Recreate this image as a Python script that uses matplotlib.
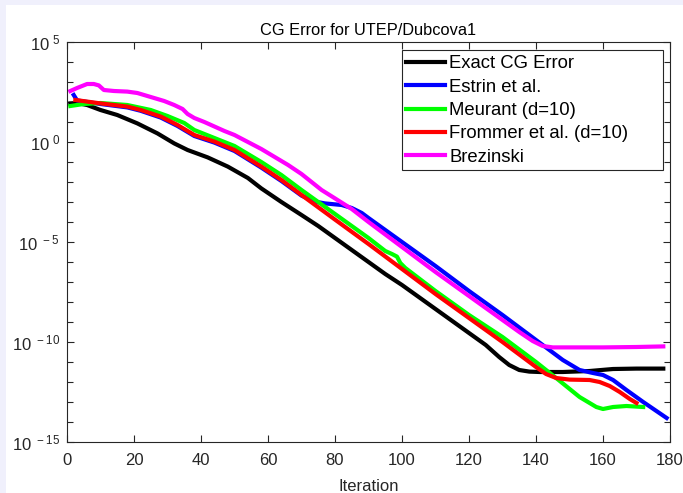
import numpy as np
import matplotlib
matplotlib.use("Agg")
import matplotlib.pyplot as plt
from matplotlib.patches import Rectangle
from matplotlib.ticker import FixedLocator, FixedFormatter, NullFormatter

plt.rcParams['font.family'] = ['Liberation Sans', 'DejaVu Sans']
plt.rcParams['mathtext.fontset'] = 'custom'
plt.rcParams['mathtext.rm'] = 'Liberation Sans'

title = "CG Error for UTEP/Dubcova1"
xlabel = "Iteration"
labels = ["Exact CG Error", "Estrin et al.", "Meurant (d=10)", "Frommer et al. (d=10)", "Brezinski"]
colors = ["#000000", "#0000ff", "#00ff00", "#ff0000", "#ff00ff"]

# iteration numbers and log10 of the error
exact_it = [1, 3, 6, 10, 15, 21, 27, 32, 36, 42, 48, 54, 58, 64, 70, 75, 80, 85, 90, 95, 100,
            105, 110, 115, 120, 125, 129, 132, 135, 138, 141, 148, 156, 163, 170, 178]
exact_lg = [1.93, 1.95, 1.85, 1.6, 1.35, 0.93, 0.43, -0.07, -0.4, -0.77, -1.23, -1.8, -2.32, -3.0,
            -3.65, -4.2, -4.8, -5.4, -6.0, -6.6, -7.15, -7.75, -8.35, -8.95, -9.55, -10.15, -10.75,
            -11.15, -11.4, -11.48, -11.5, -11.5, -11.45, -11.35, -11.33, -11.33]

estrin_it = [2, 3, 10, 18, 22, 28, 33, 38, 44, 50, 58, 64, 70, 74, 77, 82, 85, 88, 90, 100, 110,
             120, 130, 140, 144, 148, 153, 157, 160, 163, 167, 172, 179]
estrin_lg = [2.35, 2.08, 1.9, 1.73, 1.56, 1.22, 0.8, 0.3, -0.03, -0.45, -1.28, -1.95, -2.68, -2.98,
             -3.07, -3.15, -3.3, -3.55, -3.8, -5.0, -6.2, -7.45, -8.65, -9.9, -10.4, -10.9, -11.4,
             -11.55, -11.65, -11.9, -12.4, -13.0, -13.8]

meurant_it = [1, 5, 10, 18, 25, 30, 35, 38, 44, 50, 58, 64, 70, 80, 90, 95, 97, 98.5, 99.5, 101,
              110, 120, 130, 140, 146, 153, 158, 160, 163, 167, 172]
meurant_lg = [1.8, 1.9, 1.95, 1.85, 1.6, 1.3, 0.95, 0.6, 0.2, -0.2, -1.0, -1.65, -2.4, -3.6, -4.8,
              -5.45, -5.6, -5.73, -6.05, -6.3, -7.45, -8.65, -9.75, -11.0, -11.8, -12.75, -13.25,
              -13.35, -13.25, -13.2, -13.25]

frommer_it = [2.5, 10, 18, 22, 28, 33, 38, 44, 50, 58, 64, 70, 80, 90, 100, 110, 120, 130, 140, 143,
              146, 150, 156, 159, 162, 165, 168, 170]
frommer_lg = [2.1, 1.93, 1.77, 1.6, 1.27, 0.85, 0.35, 0.02, -0.4, -1.23, -1.9, -2.65, -3.88, -5.1,
              -6.35, -7.6, -8.8, -10.0, -11.25, -11.6, -11.8, -11.88, -11.9, -12.0, -12.2, -12.5,
              -12.85, -13.05]

brez_it = [1, 3, 6, 8, 9.5, 11, 14, 18, 21, 24, 27, 29, 32, 34.5, 36, 38, 41, 43, 47, 50, 54, 58,
           62, 66, 70, 76, 80, 85, 90, 100, 110, 120, 130, 135, 139, 142, 145, 150, 160, 170, 178]
brez_lg = [2.55, 2.7, 2.9, 2.9, 2.83, 2.6, 2.55, 2.52, 2.45, 2.3, 2.15, 2.05, 1.85, 1.65, 1.4, 1.2,
           1.0, 0.85, 0.55, 0.35, 0.0, -0.35, -0.75, -1.15, -1.6, -2.4, -2.82, -3.35, -4.0, -5.25,
           -6.5, -7.7, -8.9, -9.5, -9.95, -10.2, -10.27, -10.27, -10.27, -10.25, -10.22]

series = [(exact_it, exact_lg), (estrin_it, estrin_lg), (meurant_it, meurant_lg),
          (frommer_it, frommer_lg), (brez_it, brez_lg)]

xticks = [0, 20, 40, 60, 80, 100, 120, 140, 160, 180]
yexp_major = [-15, -10, -5, 0, 5]

W, H = 683, 493
fig = plt.figure(figsize=(W / 100, H / 100), dpi=100, facecolor="#f0f0fc")
fig.patches.append(Rectangle((6 / W, 0), 1 - 6 / W, 1 - 5 / H, transform=fig.transFigure,
                             facecolor="white", edgecolor="none", zorder=-10))

ax = fig.add_axes([67 / W, 51 / H, 603 / W, 400 / H])
ax.set_zorder(5)
for (it, lg), c, lab in zip(series, colors, labels):
    ax.semilogy(it, 10.0 ** np.array(lg), color=c, lw=3.0, label=lab, solid_joinstyle='round')

ax.set_xlim(0, 180)
ax.set_ylim(1e-15, 1e5)
ax.xaxis.set_major_locator(FixedLocator(xticks))
ax.set_xticklabels([str(v) for v in xticks])
ax.yaxis.set_major_locator(FixedLocator([10.0 ** e for e in yexp_major]))
ax.yaxis.set_major_formatter(FixedFormatter([r'$\mathregular{10^{\ %d}}$' % e for e in yexp_major]))
ax.yaxis.set_minor_locator(FixedLocator([10.0 ** e for e in range(-15, 6)]))
ax.yaxis.set_minor_formatter(NullFormatter())

tc = "#262626"
ax.tick_params(axis='both', which='both', direction='in', top=True, right=True, colors=tc,
               labelcolor=tc, labelsize=12, width=0.8)
ax.tick_params(axis='both', which='major', length=5)
ax.tick_params(axis='y', which='minor', length=4)
ax.tick_params(axis='x', pad=8)
ax.tick_params(axis='y', pad=5)
for s in ax.spines.values():
    s.set_color(tc)
    s.set_linewidth(0.8)

ax.set_title(title, fontsize=11.8, color="#000000", pad=5)
ax.set_xlabel(xlabel, fontsize=12, color=tc, labelpad=8)

# legend frame (MATLAB-style, wider on the right)
frame = Rectangle((402 / W, 1 - 170 / H), 261 / W, 120 / H, transform=fig.transFigure,
                  facecolor="white", edgecolor=tc, lw=0.8, zorder=4, clip_on=False)
ax.add_artist(frame)
leg = ax.legend(loc='upper left', bbox_to_anchor=(406 / W, 1 - 55.5 / H),
                bbox_transform=fig.transFigure, fontsize=13.3, frameon=False,
                handlelength=2.1, handletextpad=0.25, labelspacing=0.34,
                borderpad=0.0, borderaxespad=0.0)
leg.set_zorder(6)

fig.savefig("out.png", dpi=100, facecolor=fig.get_facecolor())
